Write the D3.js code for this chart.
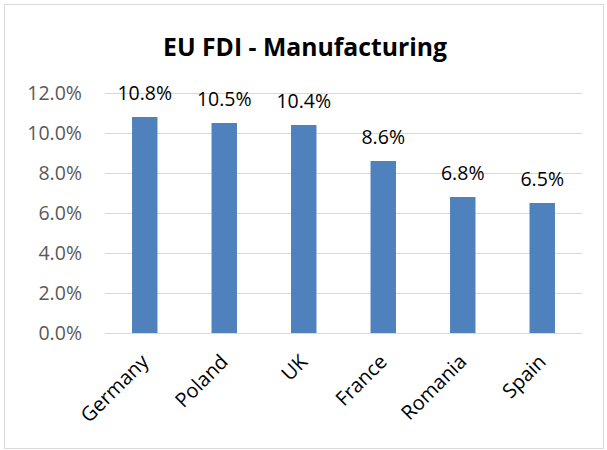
<!DOCTYPE html>
<html><head><meta charset="utf-8">
<script src="https://cdn.jsdelivr.net/npm/d3@7"></script>
<style>body{margin:0;background:#fff}svg{display:block}</style>
</head><body>
<script>
const categories = ["Germany","Poland","UK","France","Romania","Spain"];
const values = [10.8,10.5,10.4,8.6,6.8,6.5];
const yTicks = [0,2,4,6,8,10,12];
const title = "EU FDI - Manufacturing";

const W = 607, H = 450;
const svg = d3.select("body").append("svg").attr("width",W).attr("height",H);
svg.append("rect").attr("x",0).attr("y",0).attr("width",W).attr("height",H).attr("fill","#fff");
svg.append("rect").attr("x",4.5).attr("y",4.5).attr("width",599).attr("height",444)
  .attr("fill","none").attr("stroke","#d9d9d9").attr("stroke-width",1);

const font = "'Open Sans', 'Liberation Sans', sans-serif";
const x = d3.scaleBand().domain(categories).range([105,582]).paddingInner(0.68).paddingOuter(0.34);
const y = d3.scaleLinear().domain([0,12]).range([333,93]);

// gridlines
svg.append("g").selectAll("line").data(yTicks).join("line")
  .attr("x1",105).attr("x2",582)
  .attr("y1",d=>Math.round(y(d))+0.5).attr("y2",d=>Math.round(y(d))+0.5)
  .attr("stroke","#d9d9d9").attr("stroke-width",1);

// y axis
const yAxis = d3.axisLeft(y).tickValues(yTicks).tickFormat(d=>d.toFixed(1)+"%").tickSize(0).tickPadding(0);
const gy = svg.append("g").attr("transform","translate(82,0)").call(yAxis);
gy.select(".domain").remove();
gy.selectAll("text").attr("font-family",font).attr("font-size",19.5).attr("fill","#595959").attr("dy","0.35em");

// bars
svg.append("g").selectAll("rect").data(values).join("rect")
  .attr("x",(d,i)=>x(categories[i])).attr("width",x.bandwidth())
  .attr("y",d=>y(d)).attr("height",d=>y(0)-y(d)).attr("fill","#4f81bd");

// data labels
svg.append("g").selectAll("text").data(values).join("text")
  .attr("x",(d,i)=>x(categories[i])+x.bandwidth()/2).attr("y",d=>y(d)-17)
  .attr("text-anchor","middle").attr("font-family",font).attr("font-size",19.5).attr("fill","#000")
  .text(d=>d.toFixed(1)+"%");

// x axis
const xAxis = d3.axisBottom(x).tickSize(0).tickPadding(0);
const gx = svg.append("g").attr("transform","translate(0,333)").call(xAxis);
gx.select(".domain").remove();
gx.selectAll("text").attr("font-family",font).attr("font-size",20).attr("fill","#000")
  .attr("text-anchor","end").attr("dy",0).attr("y",0)
  .attr("transform","translate(5,30) rotate(-45)");

// title
const t = svg.append("text").attr("x",305).attr("y",56).attr("text-anchor","middle")
  .attr("font-family",font).attr("font-weight","bold").attr("font-size",22).attr("fill","#000").text(title);
const len = t.node().getComputedTextLength();
t.attr("font-size",22*284/len);
</script>
</body></html>
